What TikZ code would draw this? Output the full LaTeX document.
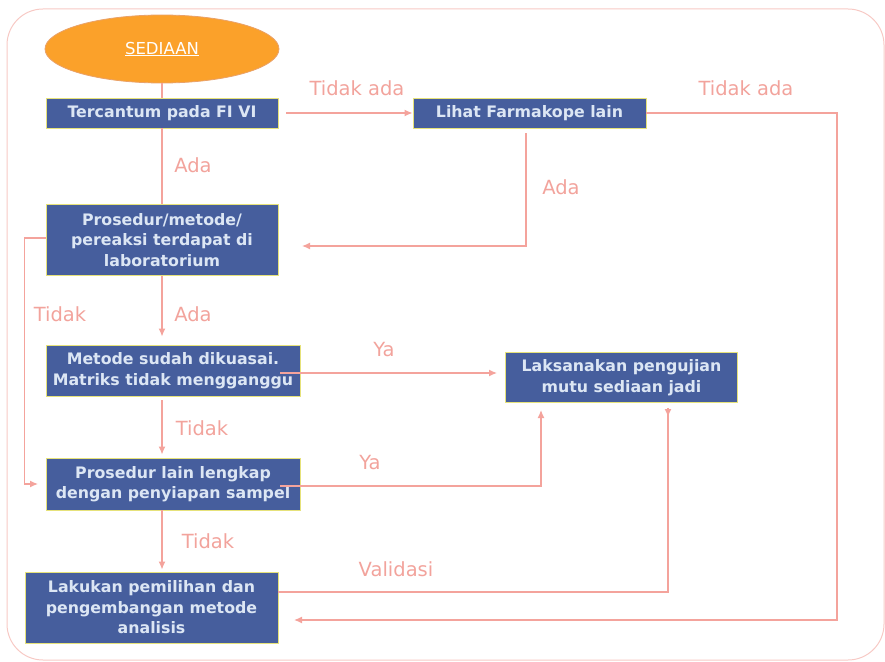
\documentclass[tikz,border=0pt]{standalone}
\usepackage{fontspec}
\setmainfont{DejaVu Sans}
\usetikzlibrary{shapes.geometric,arrows.meta}
\definecolor{boxfill}{HTML}{465E9D}
\definecolor{boxedge}{HTML}{E6E27A}
\definecolor{boxtext}{HTML}{DCE6F4}
\definecolor{lncol}{HTML}{F4A39C}
\definecolor{lblcol}{HTML}{F2A39C}
\definecolor{ellfill}{HTML}{FBA12A}
\definecolor{elledge}{HTML}{E9A26A}
\definecolor{outercol}{HTML}{F7C9C4}
\tikzset{
  flowbox/.style={rectangle, fill=boxfill, draw=boxedge, line width=0.9pt, text=boxtext,
    align=center, inner sep=0pt, font=\fontsize{15.8}{20.5}\selectfont\bfseries},
  ln/.style={draw=lncol, line width=1.3pt},
  arr/.style={ln, -{Latex[length=8pt,width=7pt]}},
  lbl/.style={text=lblcol, font=\fontsize{19.5}{22}\selectfont, inner sep=0pt}
}
\begin{document}
\begin{tikzpicture}[x=1pt,y=-1pt]
\useasboundingbox (0,0) rectangle (885,661);
\draw[outercol, line width=1pt, rounded corners=36pt] (7,9) rectangle (884,660);

\node[ellipse, fill=ellfill, draw=elledge, line width=0.8pt, minimum width=234pt, minimum height=68pt,
  text=white, font=\fontsize{16.5}{20}\selectfont] (ell) at (162,49) {\underline{SEDIAAN}};

\node[flowbox, minimum width=232pt, minimum height=30pt] (b1) at (162,113) {Tercantum pada FI VI};
\node[flowbox, minimum width=233pt, minimum height=30pt] (b2) at (529.5,113) {Lihat Farmakope lain};
\node[flowbox, minimum width=232pt, minimum height=71pt] (b3) at (162,240) {Prosedur/metode/\\pereaksi terdapat di\\laboratorium};
\node[flowbox, minimum width=254pt, minimum height=51pt] (b4) at (173,370.5) {Metode sudah dikuasai.\\Matriks tidak mengganggu};
\node[flowbox, minimum width=254pt, minimum height=52pt] (b5) at (173,484) {Prosedur lain lengkap\\dengan penyiapan sampel};
\node[flowbox, minimum width=253pt, minimum height=71pt] (b6) at (151.5,607.5) {Lakukan pemilihan dan\\pengembangan metode\\analisis};
\node[flowbox, minimum width=232pt, minimum height=50pt] (b7) at (621.5,377.5) {Laksanakan pengujian\\mutu sediaan jadi};

\coordinate (cR) at (837,620);
\coordinate (t6) at (294,620);
\coordinate (t3) at (302,246);
\coordinate (t5) at (38,484);
\coordinate (t7a) at (497,373);
\coordinate (t7b) at (541,410);
\coordinate (t7c) at (668,417);

\draw[ln] (ell) -- (b1);
\draw[ln] (b1) -- (b3);
\draw[arr] ([xshift=8pt]b1.east) -- (b2.west);
\draw[arr] (b2.east) -| (cR) -- (t6);
\draw[arr] ([xshift=-3.5pt,yshift=-5pt]b2.south) |- (t3);
\draw[arr] ([yshift=2pt]b3.west) -- ++(-21,0) |- (t5);
\draw[arr] (b3.south) -- ([xshift=-11pt,yshift=8pt]b4.north);
\draw[arr] ([xshift=-20pt,yshift=-2.5pt]b4.east) -- (t7a);
\draw[arr] ([xshift=-11pt,yshift=-4pt]b4.south) -- ([xshift=-11pt,yshift=3pt]b5.north);
\draw[arr] ([xshift=-20pt,yshift=-2pt]b5.east) -| (t7b);
\draw[arr] ([xshift=-11pt]b5.south) -- ([xshift=10.5pt,yshift=2pt]b6.north);
\draw[ln] ([yshift=15.5pt]b6.east) -| ([yshift=-5pt]b7.south -| t7c);
\draw[arr] ([yshift=-5pt]b7.south -| t7c) -- (t7c);

\node[lbl] (l1) at (357,88) {Tidak ada};
\node[lbl] (l2) at (746,88) {Tidak ada};
\node[lbl] (l3) at (193,165) {Ada};
\node[lbl] (l4) at (561,187) {Ada};
\node[lbl] (l5) at (60,314) {Tidak};
\node[lbl] (l6) at (193,314) {Ada};
\node[lbl] (l7) at (384,350) {Ya};
\node[lbl] (l8) at (202,428) {Tidak};
\node[lbl] (l9) at (370,463) {Ya};
\node[lbl] (l10) at (208,541) {Tidak};
\node[lbl] (l11) at (396,569) {Validasi};
\end{tikzpicture}
\end{document}
